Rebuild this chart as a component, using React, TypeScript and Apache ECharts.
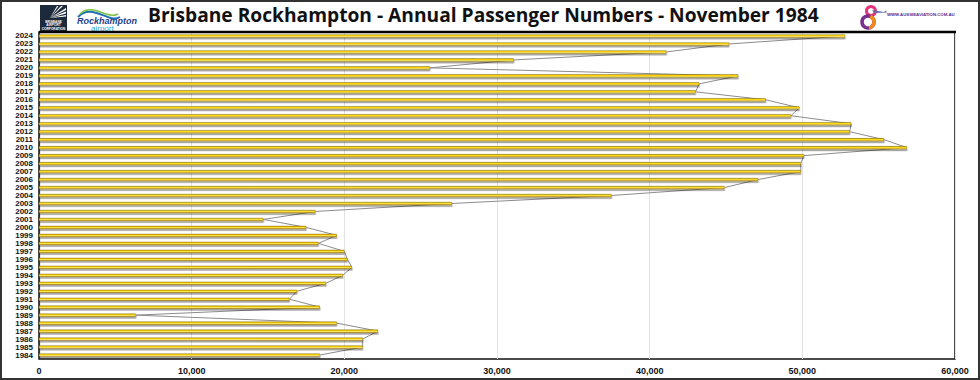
import React, { useEffect, useRef } from "react";
import * as echarts from "echarts";

const years = [
  "1984", "1985", "1986", "1987", "1988", "1989", "1990", "1991", "1992", "1993",
  "1994", "1995", "1996", "1997", "1998", "1999", "2000", "2001", "2002", "2003",
  "2004", "2005", "2006", "2007", "2008", "2009", "2010", "2011", "2012", "2013",
  "2014", "2015", "2016", "2017", "2018", "2019", "2020", "2021", "2022", "2023", "2024",
];

const passengers = [
  18400, 21200, 21200, 22200, 19500, 6350, 18400, 16400, 16900, 18800,
  19900, 20500, 20200, 20000, 18300, 19500, 17500, 14700, 18100, 27050,
  37500, 44900, 47100, 49900, 49900, 50100, 56850, 55350, 53100, 53200,
  49250, 49800, 47600, 43000, 43250, 45800, 25600, 31100, 41100, 45200, 52800,
];

const xTicks = [0, 10000, 20000, 30000, 40000, 50000, 60000];

const titleText = "Brisbane Rockhampton - Annual Passenger Numbers - November 1984";

export default function App() {
  const ref = useRef<HTMLDivElement>(null);

  useEffect(() => {
    if (!ref.current) return;
    const chart = echarts.init(ref.current, undefined, { renderer: "svg" });

    const barGradient = new echarts.graphic.LinearGradient(0, 0, 0, 1, [
      { offset: 0, color: "#b08a00" },
      { offset: 0.35, color: "#ffd800" },
      { offset: 0.7, color: "#ffea6a" },
      { offset: 1, color: "#c49800" },
    ]);

    chart.setOption({
      animation: false,
      backgroundColor: "transparent",
      grid: {
        left: 39,
        right: 25,
        top: 32,
        bottom: 21,
        show: true,
        borderColor: "#111111",
        borderWidth: 1.5,
        backgroundColor: "transparent",
      },
      xAxis: {
        type: "value",
        min: xTicks[0],
        max: xTicks[xTicks.length - 1],
        interval: 10000,
        axisLine: { show: false },
        axisTick: { show: false },
        splitLine: { show: true, lineStyle: { color: "#e2e2e2", width: 1 } },
        axisLabel: {
          margin: 7,
          fontSize: 9,
          fontWeight: "bold",
          color: "#111",
          fontFamily: "Liberation Sans, Arial, sans-serif",
          formatter: (v: number) => v.toLocaleString("en-US"),
        },
      },
      yAxis: {
        type: "category",
        data: years,
        axisLine: { show: true, lineStyle: { color: "#333", width: 1.2 } },
        axisTick: { show: false },
        splitLine: { show: false },
        axisLabel: {
          margin: 6,
          fontSize: 8,
          fontWeight: "bold",
          color: "#111",
          interval: 0,
          fontFamily: "Liberation Sans, Arial, sans-serif",
        },
      },
      series: [
        {
          type: "bar",
          data: passengers,
          barWidth: 3,
          z: 3,
          itemStyle: {
            color: barGradient,
            borderColor: "#8f6e00",
            borderWidth: 0.4,
            shadowColor: "rgba(0,0,0,0.35)",
            shadowOffsetY: 2,
            shadowOffsetX: 0.5,
            shadowBlur: 1.5,
          },
        },
        {
          type: "line",
          data: passengers,
          symbol: "none",
          z: 2,
          lineStyle: { color: "#8c8c8c", width: 1 },
        },
      ],
      graphic: [
        {
          type: "line",
          shape: { x1: 39, y1: 32, x2: 956, y2: 32 },
          style: { stroke: "#000", lineWidth: 2.5 },
          z: 10,
        },
        {
          type: "text",
          left: 148,
          top: 5,
          style: {
            text: titleText,
            fontSize: 19.2,
            fontWeight: "bold",
            fill: "#111",
            fontFamily: "Open Sans, Liberation Sans, sans-serif",
          },
        },
        // Brisbane Airport logo
        {
          type: "group",
          children: [
            { type: "rect", shape: { x: 40, y: 5, width: 27, height: 27 }, style: { fill: "#1d2a3c" } },
            { type: "polygon", shape: { points: [[50, 18], [66, 8], [66, 10]] }, style: { fill: "#ffffff" } },
            { type: "polygon", shape: { points: [[50, 18], [66, 11.5], [66, 13.5]] }, style: { fill: "#ffffff" } },
            { type: "polygon", shape: { points: [[50, 18], [66, 15], [66, 16.5]] }, style: { fill: "#ffffff" } },
            { type: "polygon", shape: { points: [[50, 18], [61, 6], [63, 6]] }, style: { fill: "#ffffff" } },
            { type: "polygon", shape: { points: [[50, 18], [57, 6], [58.5, 6]] }, style: { fill: "#ffffff" } },
            {
              type: "text",
              x: 53.5,
              y: 20,
              style: {
                text: "BRISBANE\nAIRPORT\nCORPORATION",
                fontSize: 3.2,
                lineHeight: 3.4,
                fontWeight: "bold",
                fill: "#ffffff",
                align: "center",
                fontFamily: "Liberation Sans, sans-serif",
              },
            },
          ],
        },
        // Rockhampton airport logo
        {
          type: "group",
          children: [
            {
              type: "bezierCurve",
              shape: { x1: 78, y1: 17, x2: 120, y2: 17, cpx1: 92, cpy1: 2, cpx2: 108, cpy2: 24 },
              style: { stroke: "#1f6fb5", lineWidth: 2, fill: "none" },
            },
            {
              type: "bezierCurve",
              shape: { x1: 80, y1: 14, x2: 118, y2: 14, cpx1: 92, cpy1: 2, cpx2: 108, cpy2: 20 },
              style: { stroke: "#7bc142", lineWidth: 1.6, fill: "none" },
            },
            {
              type: "text",
              x: 77,
              y: 16,
              style: {
                text: "Rockhampton",
                fontSize: 9,
                fontStyle: "italic",
                fontWeight: "bold",
                fill: "#1c3f8c",
                fontFamily: "Liberation Sans, sans-serif",
              },
            },
            {
              type: "text",
              x: 91,
              y: 24.5,
              style: {
                text: "airport",
                fontSize: 8,
                fill: "#1fa9dc",
                fontFamily: "Liberation Sans, sans-serif",
              },
            },
          ],
        },
        // Aussie aviation logo
        {
          type: "group",
          children: [
            { type: "circle", shape: { cx: 871, cy: 11, r: 4.5 }, style: { fill: "none", stroke: "#e5337a", lineWidth: 3 } },
            { type: "circle", shape: { cx: 868, cy: 22, r: 6 }, style: { fill: "none", stroke: "#7a2f8f", lineWidth: 3.5 } },
            { type: "arc", shape: { cx: 868, cy: 22, r: 6, startAngle: -1.2, endAngle: 1.4 }, style: { fill: "none", stroke: "#f08a1c", lineWidth: 3.5 } },
            { type: "polygon", shape: { points: [[872, 10], [884, 12], [886, 10.5], [887, 12.5], [874, 13]] }, style: { fill: "#6a6aa8" } },
            {
              type: "text",
              x: 887,
              y: 12.5,
              style: {
                text: "WWW.AUSSIEAVIATION.COM.AU",
                fontSize: 4.3,
                fontWeight: "bold",
                fill: "#5b2b8c",
                fontFamily: "Liberation Sans, sans-serif",
              },
            },
          ],
        },
      ],
    });

    return () => {
      chart.dispose();
    };
  }, []);

  return (
    <div
      style={{
        position: "absolute",
        left: 0,
        top: 0,
        width: 980,
        height: 380,
        boxSizing: "border-box",
        border: "2px solid #333",
        background: "#fff",
      }}
    >
      <div ref={ref} style={{ position: "absolute", left: -2, top: -2, width: 980, height: 380 }} />
    </div>
  );
}
